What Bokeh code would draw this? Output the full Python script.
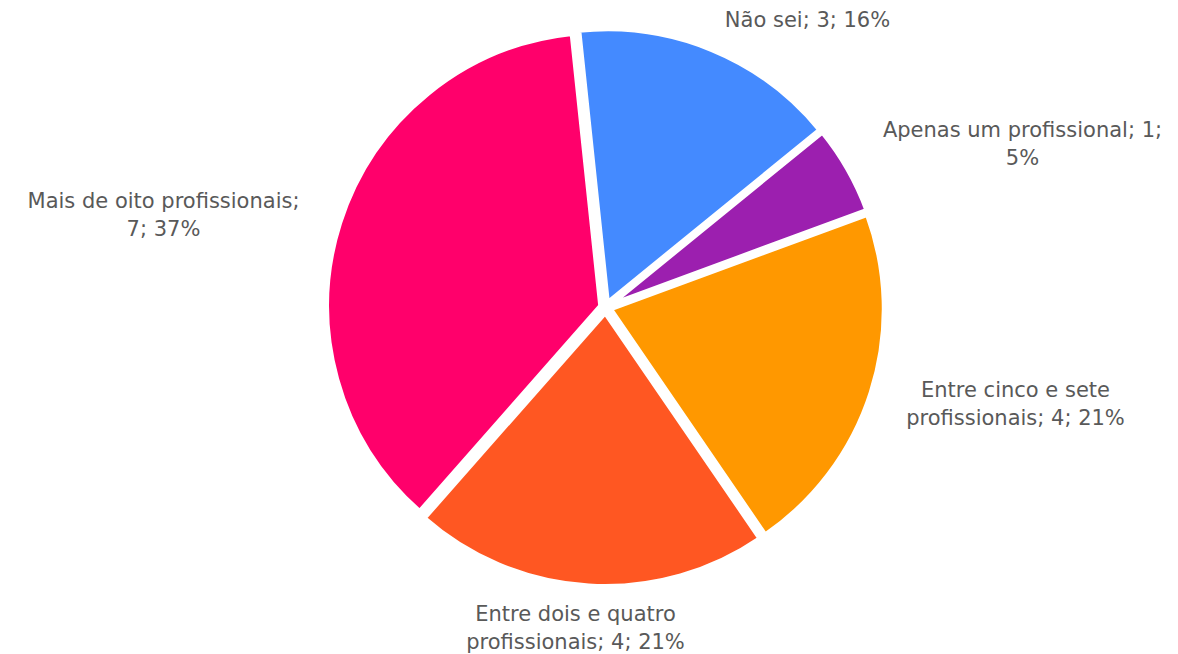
import numpy as np
from bokeh.plotting import figure
from bokeh.models import Range1d, ColumnDataSource
from bokeh.core.properties import value
from bokeh.embed import file_html
from bokeh.resources import INLINE

# ---- data ----
categories = ["Não sei", "Apenas um profissional", "Entre cinco e sete profissionais",
              "Entre dois e quatro profissionais", "Mais de oito profissionais"]
counts = [3, 1, 4, 4, 7]
percents = ["16%", "5%", "21%", "21%", "37%"]
colors = ["#448AFF", "#9C1FAF", "#FF9800", "#FF5722", "#FF006B"]
label_lines = [
    ["Não sei; 3; 16%"],
    ["Apenas um profissional; 1;", "5%"],
    ["Entre cinco e sete", "profissionais; 4; 21%"],
    ["Entre dois e quatro", "profissionais; 4; 21%"],
    ["Mais de oito profissionais;", "7; 37%"],
]

# ---- layout (page pixel coords; y is negated) ----
W, H = 1178, 654
cx, cy = 605, 307          # pie centre (page px)
R = 274                    # radius
explode = 5.0
first_angle = -6.0         # degrees clockwise from 12 o'clock
label_pos = [(807, 19), (1022, 129), (1015, 389), (575, 613), (163, 200)]
line_gap = 28

p = figure(width=W, height=H, output_backend="svg", toolbar_location=None,
           x_range=Range1d(0, W), y_range=Range1d(-H, 0),
           min_border=0, outline_line_color=None)
p.axis.visible = False
p.grid.visible = False
p.background_fill_color = "white"
p.border_fill_color = "white"

total = sum(counts)
theta = np.concatenate([[0], np.cumsum(counts)]) / total * 360.0 + first_angle
t0, t1 = theta[:-1], theta[1:]
mid = np.radians((t0 + t1) / 2)
xs = cx + explode * np.sin(mid)
ys = -(cy - explode * np.cos(mid))
# bokeh angles: anticlockwise from +x
start = np.radians(90 - t1)
end = np.radians(90 - t0)

src = ColumnDataSource(dict(x=xs, y=ys, start=start, end=end, color=colors))
p.wedge(x="x", y="y", radius=R, start_angle="start", end_angle="end",
        fill_color="color", line_color="white", line_width=5, source=src)

tx, ty, tt = [], [], []
for (lx, ly), lines in zip(label_pos, label_lines):
    for i, ln in enumerate(lines):
        tx.append(lx)
        ty.append(-(ly + i * line_gap))
        tt.append(ln)
p.text(x=tx, y=ty, text=tt, text_align="center", text_baseline="middle",
       text_font=value("DejaVu Sans"), text_font_size="21px", text_color="#595959")

open("out.html", "w").write(file_html(p, INLINE))
